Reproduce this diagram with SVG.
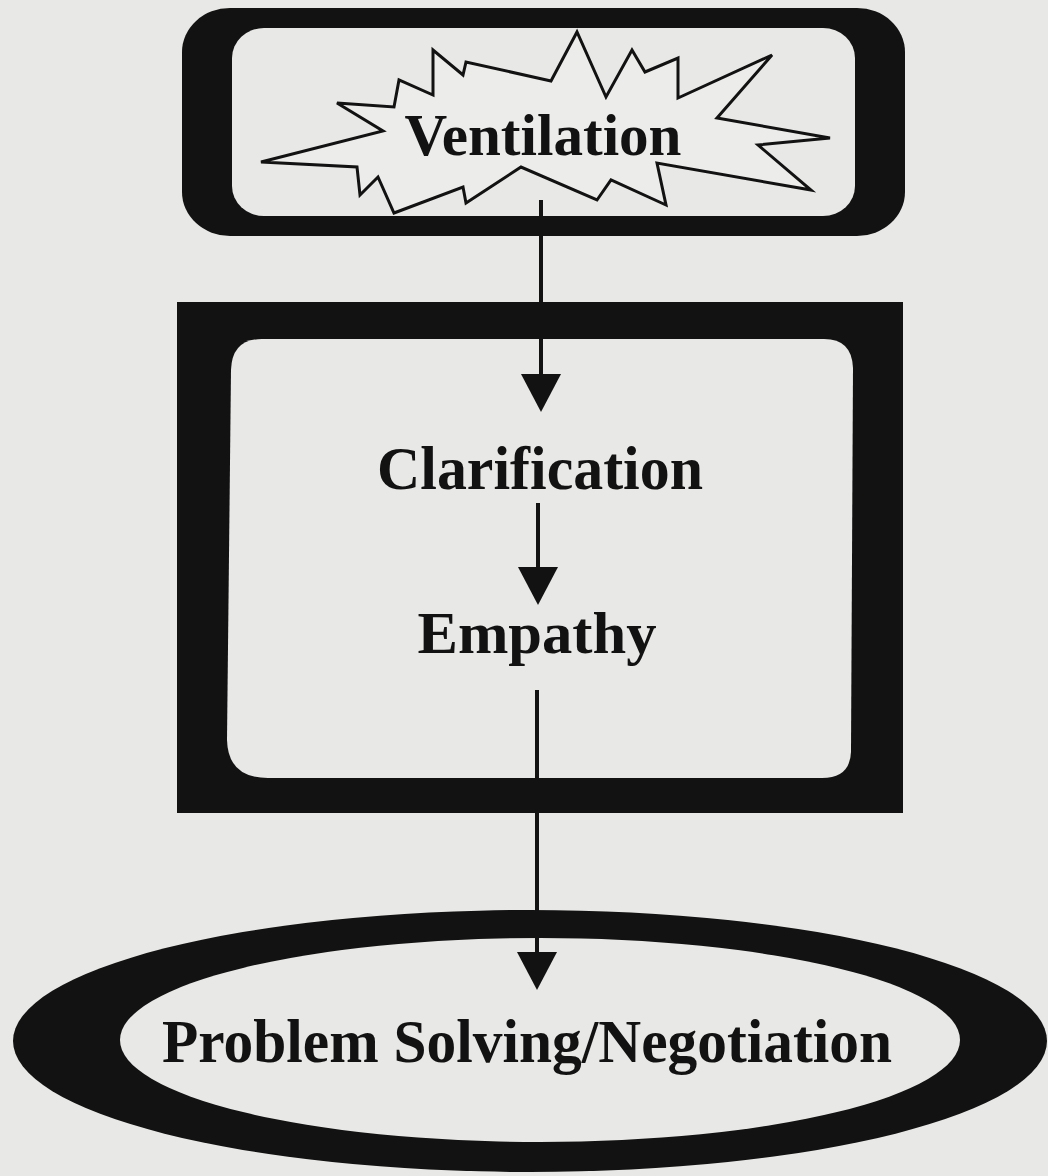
<svg xmlns="http://www.w3.org/2000/svg" width="1048" height="1176" viewBox="0 0 1048 1176">
<style>
.ink{fill:#121212}
.paper{fill:#e8e8e6}
.lbl{font-family:"Liberation Serif","Times New Roman",serif;font-weight:bold;fill:#121212;text-anchor:middle}
.conn{stroke:#121212;stroke-width:4;fill:none}
.star{fill:#ececea;stroke:#121212;stroke-width:3;stroke-linejoin:miter}
</style>
<defs>
<marker id="ah" viewBox="0 0 38 40" refX="18" refY="20" markerWidth="38" markerHeight="40" markerUnits="userSpaceOnUse" orient="auto">
<path d="M0,0 L38,20 L0,40 Z" fill="#121212"/>
</marker>
</defs>
<rect width="1048" height="1176" class="paper"/>
<g id="ventilation">
<rect x="182" y="8" width="723" height="228" rx="48" ry="44" class="ink"/>
<rect x="232" y="28" width="623" height="188" rx="32" ry="30" class="paper"/>
<polygon class="star" points="261,162 383,131 337,103 394,107 399,80 433,95 433,50 463,75 466,62 551,81 577,32 606,97 632,50 645,72 678,58 678,98 772,55 717,118 830,138 758,145 811,190 657,163 666,205 611,180 597,200 521,167 466,203 463,187 394,213 378,177 360,195 357,167"/>
<text x="543" y="155" class="lbl" font-size="60" textLength="277" lengthAdjust="spacingAndGlyphs">Ventilation</text>
</g>
<g id="middle">
<rect x="177" y="302" width="726" height="511" class="ink"/>
<path class="paper" d="M262,339 L824,339 Q852,339 853,368 L851,752 Q850,778 822,778 L268,778 Q228,778 227,740 L231,370 Q232,339 262,339 Z"/>
<text x="540" y="489" class="lbl" font-size="62" textLength="326" lengthAdjust="spacingAndGlyphs">Clarification</text>
<text x="537" y="653" class="lbl" font-size="60" textLength="239" lengthAdjust="spacingAndGlyphs">Empathy</text>
</g>
<g id="problem">
<ellipse cx="530" cy="1041" rx="517" ry="131" class="ink"/>
<ellipse cx="540" cy="1040" rx="420" ry="102" class="paper"/>
<text x="527" y="1062" class="lbl" font-size="62" textLength="730" lengthAdjust="spacingAndGlyphs">Problem Solving/Negotiation</text>
</g>
<g id="connectors">
<line x1="541" y1="200" x2="541" y2="392" class="conn" marker-end="url(#ah)"/>
<line x1="538" y1="503" x2="538" y2="585" class="conn" marker-end="url(#ah)"/>
<line x1="537" y1="690" x2="537" y2="970" class="conn" marker-end="url(#ah)"/>
</g>
</svg>
